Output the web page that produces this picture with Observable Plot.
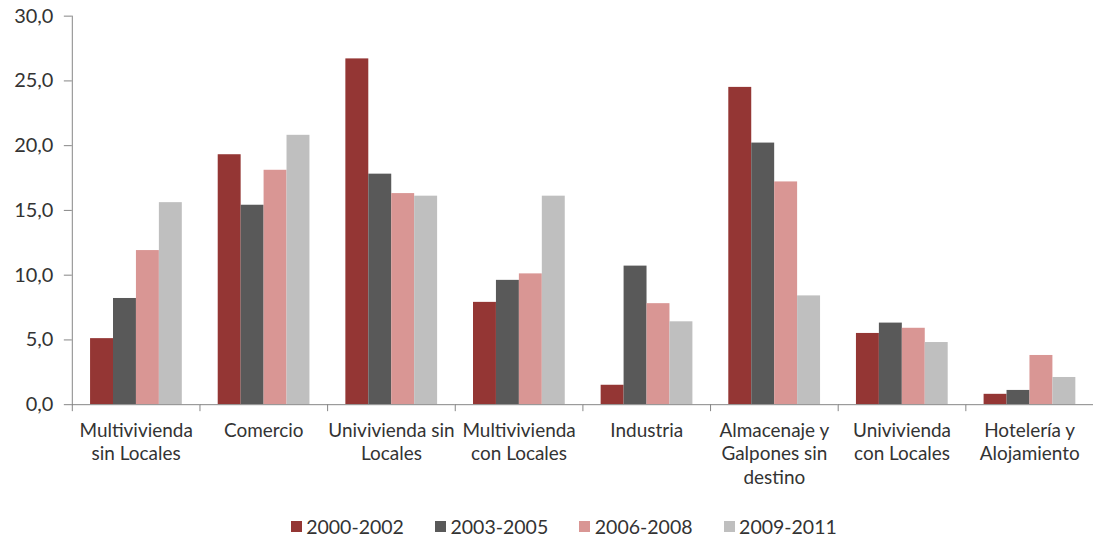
<!DOCTYPE html>
<html>
<head>
<meta charset="utf-8">
<script src="https://cdn.jsdelivr.net/npm/d3@7"></script>
<script src="https://cdn.jsdelivr.net/npm/@observablehq/plot@0.6"></script>
<style>
  html, body { margin: 0; padding: 0; background: #fff; overflow: hidden; }
  #chart { width: 1094px; height: 540px; font-family: Lato, "Open Sans", sans-serif; }
  .legend { display: flex; padding-left: 290.7px; margin-top: 8px; height: 20px; align-items: center; font-size: 19.5px; color: #333; }
  .legend .item { width: 144.3px; flex: none; display: flex; align-items: center; white-space: nowrap; }
  .legend .sw { width: 11px; height: 11px; margin-right: 4.5px; flex: none; }
</style>
</head>
<body>
<div id="chart"></div>
<script>
// Building-permit shares (%) by use type and period
const categories = [
  "Multivivienda\nsin Locales",
  "Comercio",
  "Univivienda sin\nLocales",
  "Multivivienda\ncon Locales",
  "Industria",
  "Almacenaje y\nGalpones sin\ndestino",
  "Univivienda\ncon Locales",
  "Hotelería y\nAlojamiento"
];
const periods = ["2000-2002", "2003-2005", "2006-2008", "2009-2011"];
const v2000_2002 = [5.1, 19.3, 26.7, 7.9, 1.5, 24.5, 5.5, 0.8];
const v2003_2005 = [8.2, 15.4, 17.8, 9.6, 10.7, 20.2, 6.3, 1.1];
const v2006_2008 = [11.9, 18.1, 16.3, 10.1, 7.8, 17.2, 5.9, 3.8];
const v2009_2011 = [15.6, 20.8, 16.1, 16.1, 6.4, 8.4, 4.8, 2.1];
const yTicks = [0, 5, 10, 15, 20, 25, 30];
const colors = ["#943634", "#595959", "#D99694", "#BFBFBF"];

const seriesValues = [v2000_2002, v2003_2005, v2006_2008, v2009_2011];
const rows = categories.flatMap((category, i) =>
  periods.map((period, j) => ({category, period, value: seriesValues[j][i]}))
);

const axisColor = "#868686";
const textColor = "#333333";
const font = "Lato, 'Open Sans', sans-serif";
const W = 1097, H = 510, mL = 70.7, mT = 15.7, mB = 104.7;
const innerH = H - mT - mB;

const chart = Plot.plot({
  width: W,
  height: H,
  marginLeft: mL,
  marginRight: 0,
  marginTop: mT,
  marginBottom: mB,
  style: {fontFamily: font, background: "#fff", overflow: "visible"},
  fx: {domain: categories, padding: 0, label: null},
  x: {domain: periods, paddingInner: 0, paddingOuter: 0.74, axis: null},
  y: {domain: [0, 30], label: null},
  color: {domain: periods, range: colors},
  marks: [
    Plot.barY(rows, {fx: "category", x: "period", y: "value", fill: "period"}),
    Plot.ruleY([0], {stroke: axisColor}),
    // vertical value axis line
    Plot.frame({anchor: "left", facetAnchor: "left", stroke: axisColor}),
    // short tick marks between categories
    Plot.frame({anchor: "left", stroke: axisColor, insetTop: innerH, insetBottom: -6}),
    Plot.axisY({
      ticks: yTicks,
      tickFormat: d => d.toFixed(1).replace(".", ","),
      tickSize: 8,
      tickPadding: 11,
      stroke: axisColor,
      fill: textColor,
      fontSize: 20,
      label: null
    }),
    Plot.axisFx({
      anchor: "bottom",
      tickSize: 0,
      tickPadding: 15,
      fontSize: 19,
      lineHeight: 1.26,
      fill: textColor,
      label: null
    })
  ]
});

const root = document.getElementById("chart");
root.appendChild(chart);

// legend below the chart
const legend = document.createElement("div");
legend.className = "legend";
periods.forEach((p, i) => {
  const item = document.createElement("div");
  item.className = "item";
  const sw = document.createElement("span");
  sw.className = "sw";
  sw.style.background = colors[i];
  const label = document.createElement("span");
  label.textContent = p;
  item.appendChild(sw);
  item.appendChild(label);
  legend.appendChild(item);
});
root.appendChild(legend);
</script>
</body>
</html>
